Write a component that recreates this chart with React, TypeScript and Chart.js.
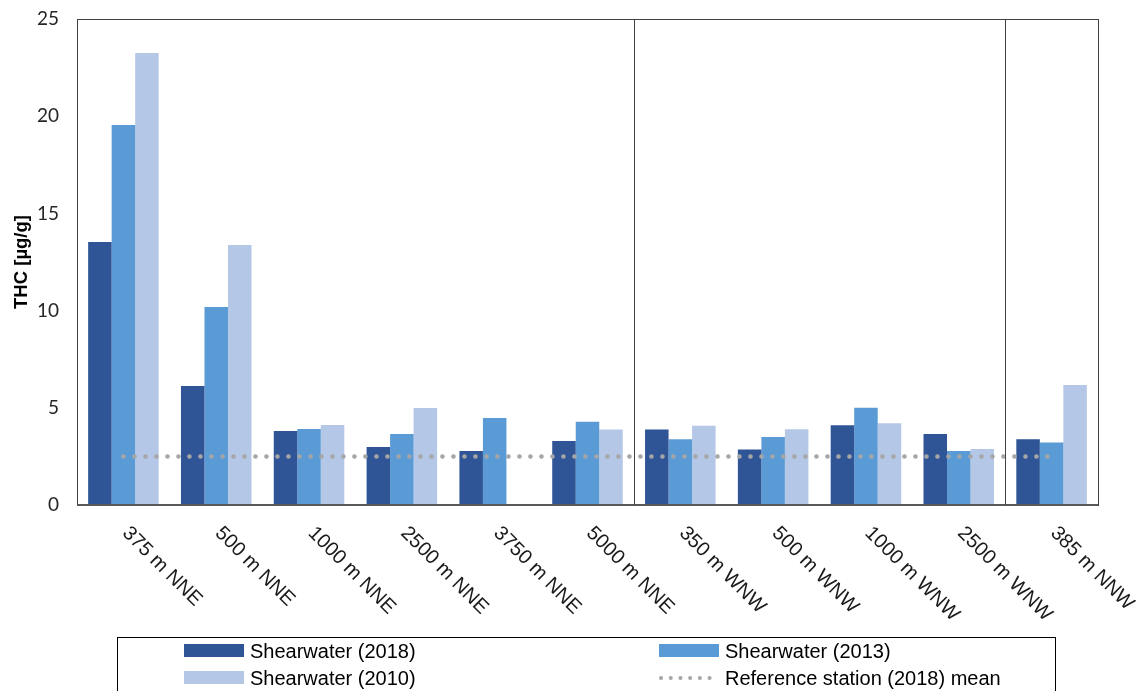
import React, { useEffect, useRef } from "react";
import { Chart, registerables } from "chart.js";

Chart.register(...registerables);

const categories = [
  "375 m NNE",
  "500 m NNE",
  "1000 m NNE",
  "2500 m NNE",
  "3750 m NNE",
  "5000 m NNE",
  "350 m WNW",
  "500 m WNW",
  "1000 m WNW",
  "2500 m WNW",
  "385 m NNW",
];
const shearwater2018 = [13.53, 6.12, 3.81, 2.98, 2.78, 3.29, 3.89, 2.86, 4.1, 3.65, 3.38];
const shearwater2013 = [19.55, 10.19, 3.91, 3.65, 4.48, 4.28, 3.38, 3.5, 5.0, 2.78, 3.22];
const shearwater2010 = [23.25, 13.37, 4.12, 4.99, null, 3.89, 4.08, 3.9, 4.2, 2.88, 6.17];
const referenceMean2018 = [2.5, 2.5, 2.5, 2.5, 2.5, 2.5, 2.5, 2.5, 2.5, 2.5, 2.5];
const yTickValues = [0, 5, 10, 15, 20, 25];
const separatorAfterIndex = [5, 9];

const seriesNames = [
  "Shearwater (2018)",
  "Shearwater (2013)",
  "Shearwater (2010)",
  "Reference station (2018) mean",
];
const yAxisTitle = "THC [µg/g]";

const C2018 = "#2F5597";
const C2013 = "#5B9BD5";
const C2010 = "#B4C7E7";
const CREF = "#A6A6A6";

const overlayPlugin = {
  id: "overlay",
  afterDatasetsDraw(chart: any) {
    const { ctx, chartArea, scales } = chart;
    const x = scales.x;
    ctx.save();
    // plot box
    ctx.strokeStyle = "#404040";
    ctx.lineWidth = 1;
    ctx.strokeRect(
      Math.round(chartArea.left) + 0.5,
      Math.round(chartArea.top) + 0.5,
      Math.round(chartArea.right - chartArea.left),
      Math.round(chartArea.bottom - chartArea.top)
    );
    // bottom axis line
    ctx.strokeStyle = "#595959";
    ctx.lineWidth = 2;
    ctx.beginPath();
    ctx.moveTo(chartArea.left, Math.round(chartArea.bottom));
    ctx.lineTo(chartArea.right, Math.round(chartArea.bottom));
    ctx.stroke();
    // group separators
    ctx.strokeStyle = "#404040";
    ctx.lineWidth = 1;
    separatorAfterIndex.forEach((i) => {
      const px = Math.round((x.getPixelForValue(i) + x.getPixelForValue(i + 1)) / 2) + 0.5;
      ctx.beginPath();
      ctx.moveTo(px, chartArea.top);
      ctx.lineTo(px, chartArea.bottom);
      ctx.stroke();
    });
    // x labels rotated clockwise
    ctx.fillStyle = "#1a1a1a";
    ctx.font = "20px 'Liberation Sans', Arial, sans-serif";
    ctx.textAlign = "left";
    ctx.textBaseline = "middle";
    chart.data.labels.forEach((lab: string, i: number) => {
      const cx = x.getPixelForValue(i);
      ctx.save();
      ctx.translate(cx + 2, chartArea.bottom + 25);
      ctx.rotate(Math.PI / 4);
      ctx.fillText(lab, 0, 0);
      ctx.restore();
    });
    // legend box
    const ds = chart.data.datasets;
    const boxL = 117, boxT = 637, boxR = 1055;
    ctx.strokeStyle = "#000000";
    ctx.lineWidth = 1;
    ctx.strokeRect(boxL + 0.5, boxT + 0.5, boxR - boxL, 80);
    ctx.font = "20px 'Liberation Sans', Arial, sans-serif";
    ctx.fillStyle = "#000000";
    ctx.textBaseline = "middle";
    const items = [
      { col: 0, row: 0, ds: ds[0] },
      { col: 1, row: 0, ds: ds[1] },
      { col: 0, row: 1, ds: ds[2] },
      { col: 1, row: 1, ds: ds[3] },
    ];
    const colX = [184, 659];
    const rowY = [651, 678];
    items.forEach((it) => {
      const sx = colX[it.col];
      const sy = rowY[it.row];
      if (it.ds.type === "line") {
        ctx.save();
        ctx.strokeStyle = it.ds.borderColor;
        ctx.lineWidth = 4;
        ctx.lineCap = "round";
        ctx.setLineDash([0.1, 9.6]);
        ctx.beginPath();
        ctx.moveTo(sx + 2, sy);
        ctx.lineTo(sx + 59, sy);
        ctx.stroke();
        ctx.restore();
      } else {
        ctx.fillStyle = it.ds.backgroundColor;
        ctx.fillRect(sx, sy - 7, 60, 13);
      }
      ctx.fillStyle = "#000000";
      ctx.fillText(it.ds.label, sx + 66, sy + 1);
    });
    ctx.restore();
  },
};

export default function App() {
  const ref = useRef<HTMLCanvasElement | null>(null);
  useEffect(() => {
    document.body.style.margin = "0";
    const canvas = ref.current;
    if (!canvas) return;
    const chart = new Chart(canvas, {
      type: "bar",
      data: {
        labels: categories,
        datasets: [
          {
            type: "bar",
            label: seriesNames[0],
            data: shearwater2018,
            backgroundColor: C2018,
            order: 2,
          },
          {
            type: "bar",
            label: seriesNames[1],
            data: shearwater2013,
            backgroundColor: C2013,
            order: 2,
          },
          {
            type: "bar",
            label: seriesNames[2],
            data: shearwater2010 as any,
            backgroundColor: C2010,
            order: 2,
          },
          {
            type: "line",
            label: seriesNames[3],
            data: referenceMean2018,
            borderColor: CREF,
            backgroundColor: CREF,
            borderWidth: 4.5,
            borderDash: [0.1, 10.9],
            borderCapStyle: "round",
            pointRadius: 0,
            order: 0,
          } as any,
        ],
      },
      options: {
        responsive: false,
        animation: false,
        layout: { padding: { left: 0, top: 19, right: 43, bottom: 186 } },
        datasets: {
          bar: { categoryPercentage: 0.76, barPercentage: 1.0 },
        } as any,
        plugins: {
          legend: { display: false },
          tooltip: { enabled: false },
        },
        scales: {
          x: {
            display: false,
            offset: true,
          },
          y: {
            min: 0,
            max: 25,
            afterFit: (s: any) => {
              s.width = 77;
              s.paddingTop = 0;
              s.paddingBottom = 0;
            },
            afterBuildTicks: (s: any) => {
              s.ticks = yTickValues.map((v) => ({ value: v }));
            },
            grid: { display: false, drawTicks: false },
            border: { display: false },
            ticks: {
              padding: 18,
              color: "#262626",
              font: { family: "Lato, 'Open Sans', sans-serif", size: 19 },
            },
            title: {
              display: true,
              text: yAxisTitle,
              color: "#000000",
              font: { family: "'Liberation Sans', Arial, sans-serif", size: 18.5, weight: "bold" },
              padding: { top: 11, bottom: 0 },
            },
          },
        },
      },
      plugins: [overlayPlugin],
    });
    return () => chart.destroy();
  }, []);
  return (
    <div style={{ width: 1141, height: 691, position: "relative", background: "#fff" }}>
      <canvas ref={ref} width={1141} height={691} style={{ display: "block" }} />
    </div>
  );
}
